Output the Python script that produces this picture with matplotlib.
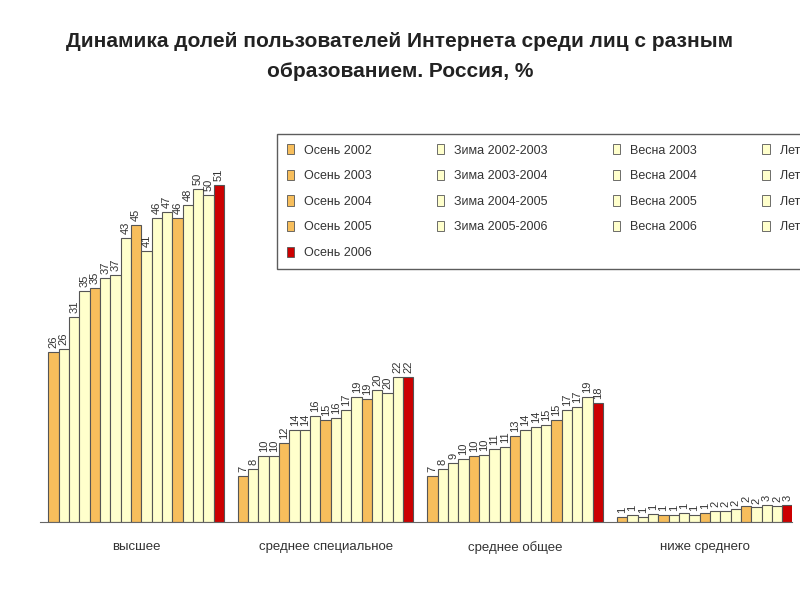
import numpy as np
import matplotlib.pyplot as plt

categories = ['высшее', 'среднее специальное', 'среднее общее', 'ниже среднего']
seasons = ['Осень 2002', 'Зима 2002-2003', 'Весна 2003', 'Лето 2003',
           'Осень 2003', 'Зима 2003-2004', 'Весна 2004', 'Лето 2004',
           'Осень 2004', 'Зима 2004-2005', 'Весна 2005', 'Лето 2005',
           'Осень 2005', 'Зима 2005-2006', 'Весна 2006', 'Лето 2006',
           'Осень 2006']
higher = [25.8, 26.2, 31, 35, 35.4, 37, 37.4, 43, 45, 41, 46, 47, 46, 48, 50.4, 49.6, 51]
special = [7, 8, 10, 10, 12, 14, 14, 16, 15.4, 15.8, 17, 19, 18.6, 20, 19.6, 22, 22]
general = [7, 8, 9, 9.6, 10, 10.2, 11, 11.4, 13, 14, 14.4, 14.7, 15.4, 17, 17.4, 19, 18]
below = [0.8, 1.0, 0.7, 1.2, 1.0, 1.1, 1.3, 1.1, 1.3, 1.7, 1.7, 1.9, 2.4, 2.2, 2.6, 2.4, 2.6]

data = [higher, special, general, below]

plt.rcParams['font.family'] = ['Liberation Sans Narrow', 'Liberation Sans', 'DejaVu Sans']

def bar_color(i):
    if i == 16:
        return '#cc0000'
    if i % 4 == 0:
        return '#f7be5c'
    return '#ffffcc'

fig = plt.figure(figsize=(8, 6), dpi=100)
ax = fig.add_axes([0.05, 0.13, 0.94, 0.66])

group_step = 18.35
colors = [bar_color(i) for i in range(17)]
for g, vals in enumerate(data):
    x = g * group_step + np.arange(17)
    ax.bar(x, vals, width=1.0, align='edge', color=colors, edgecolor='#555555', linewidth=0.8)
    for xi, v in zip(x, vals):
        ax.text(xi + 0.5, v + 0.6, '%d' % int(v + 0.5), rotation=90, ha='center', va='bottom',
                fontsize=8, color='#333333')

ax.set_xlim(-0.8, 72)
ax.set_ylim(0, 60)
ax.set_yticks([])
ax.set_xticks([g * group_step + 8.5 for g in range(4)])
ax.set_xticklabels(categories, fontsize=9.5, color='#333333')
ax.tick_params(axis='x', length=0, pad=14)
for s in ['top', 'left', 'right']:
    ax.spines[s].set_visible(False)
ax.spines['bottom'].set_color('#666666')

handles = [plt.Rectangle((0, 0), 1, 1, facecolor=c, edgecolor='#555555', linewidth=0.6) for c in colors]
# column-major order so rows read across like the original
order = []
ncol = 4
rows = 5
for c in range(ncol):
    for r in range(rows):
        idx = r * ncol + c
        if idx < 17:
            order.append(idx)
leg = fig.legend([handles[i] for i in order], [seasons[i] for i in order], ncol=ncol,
                 loc='upper left', bbox_to_anchor=(0.338, 0.787), fontsize=9,
                 frameon=True, fancybox=False, edgecolor='#333333', handlelength=0.6,
                 handleheight=0.9, columnspacing=5.2, labelspacing=1.05, borderpad=0.8)
for t in leg.get_texts():
    t.set_color('#333333')

fig.text(0.5, 0.922, 'Динамика долей пользователей Интернета среди лиц с разным',
         ha='center', fontsize=15, fontweight='bold', color='#222222')
fig.text(0.5, 0.872, 'образованием. Россия, %', ha='center', fontsize=15,
         fontweight='bold', color='#222222')

fig.savefig('out.png')
